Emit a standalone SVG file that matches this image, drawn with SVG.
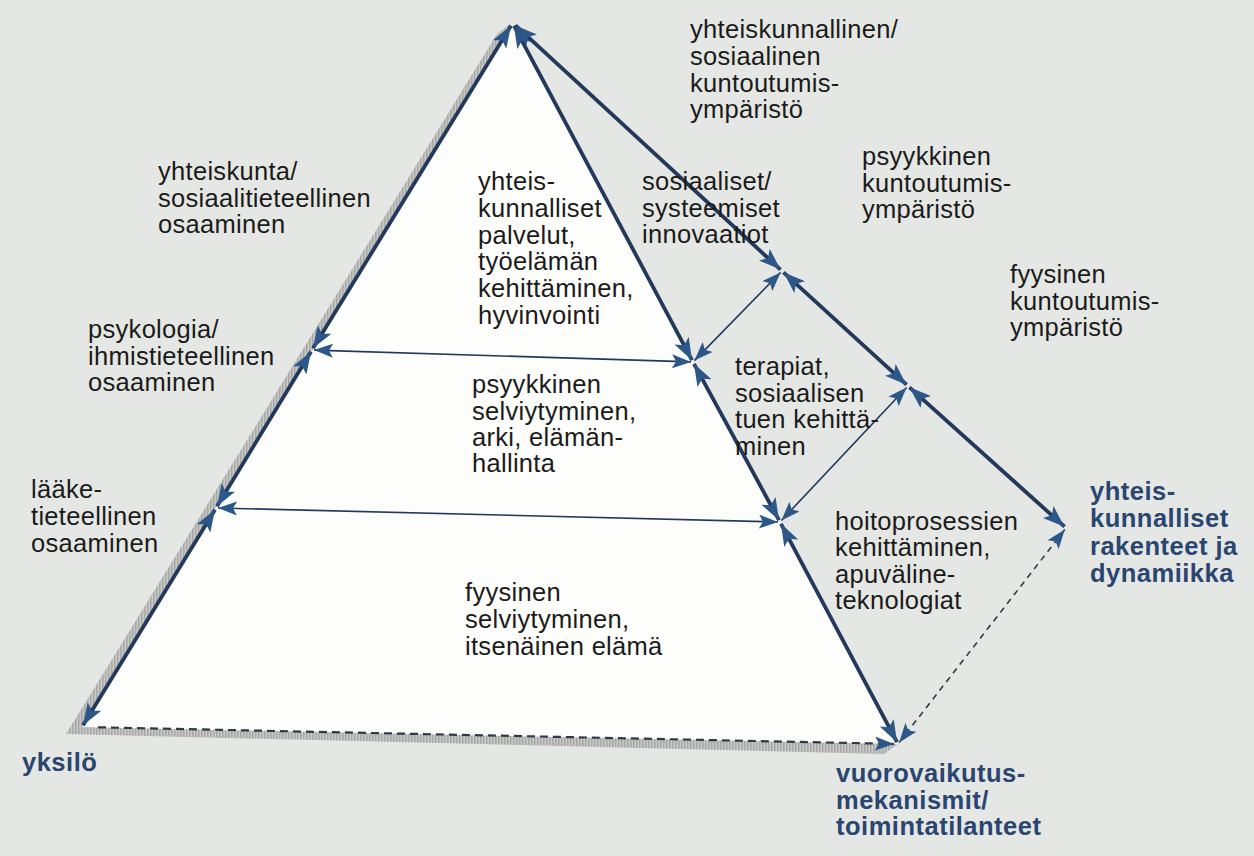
<svg xmlns="http://www.w3.org/2000/svg" width="1254" height="856" viewBox="0 0 1254 856">
<defs>
<style>
.t{font-family:"Liberation Sans",Arial,sans-serif;font-size:25.5px;fill:#1b1b1b;letter-spacing:0.3px}
.b{font-family:"Liberation Sans",Arial,sans-serif;font-size:25.5px;font-weight:bold;fill:#2a4670;letter-spacing:0.5px}
.thick{stroke:#22395c;stroke-width:3.8;fill:none;marker-start:url(#ah);marker-end:url(#ah)}
.thin{stroke:#22395c;stroke-width:1.6;fill:none;marker-start:url(#as);marker-end:url(#as)}
.dash{stroke:#2e3a48;stroke-width:1.6;fill:none;stroke-dasharray:6 5;marker-start:url(#as);marker-end:url(#as)}
</style>
<marker id="ah" viewBox="0 0 22 16" refX="22" refY="8" markerWidth="22" markerHeight="16" markerUnits="userSpaceOnUse" orient="auto-start-reverse"><path d="M0,0 L22,8 L0,16 L5,8 Z" fill="#2d5788"/></marker>
<marker id="as" viewBox="0 0 19 14" refX="19" refY="7" markerWidth="19" markerHeight="14" markerUnits="userSpaceOnUse" orient="auto-start-reverse"><path d="M0,0 L19,7 L0,14 L4,7 Z" fill="#2d5788"/></marker>
<pattern id="hatch" width="3" height="3" patternUnits="userSpaceOnUse"><rect width="3" height="3" fill="#c9cac8"/><rect width="1.5" height="3" fill="#a7a9a7"/></pattern>
</defs>
<rect width="1254" height="856" fill="#e5e7e4"/>
<g id="pyramid">
<path d="M510,24 L497,34 L66,734 L884,754 L898,744 Z" fill="url(#hatch)"/>
<path d="M512,24 L82,727 L898,744 Z" fill="#fdfdfb"/>
</g>
<g id="connectors">
<line class="thick" x1="511" y1="25.7" x2="313" y2="348.3"/>
<line class="thick" x1="311" y1="351.7" x2="217" y2="506.3"/>
<line class="thick" x1="215" y1="509.7" x2="83" y2="725.3"/>
<line class="thick" x1="514" y1="25.8" x2="692" y2="360.2"/>
<line class="thick" x1="694" y1="363.8" x2="779" y2="520.2"/>
<line class="thick" x1="781" y1="523.8" x2="897" y2="742.2"/>
<line class="thick" x1="515.5" y1="25.4" x2="780.5" y2="269.6"/>
<line class="thick" x1="783.5" y1="272.3" x2="906.5" y2="384.7"/>
<line class="thick" x1="909.5" y1="387.3" x2="1064.5" y2="526.7"/>
<line class="thin" x1="780.6" y1="272.4" x2="694.4" y2="360.6"/>
<line class="thin" x1="906.6" y1="387.5" x2="781.4" y2="520.5"/>
<line class="dash" x1="1064.8" y1="529.6" x2="899.2" y2="742.4"/>
<line class="thin" x1="314" y1="350.1" x2="691" y2="361.9"/>
<line class="thin" x1="218" y1="508" x2="778" y2="522"/>
<line x1="98" y1="727.3" x2="894" y2="743.9" stroke="#2e3a48" stroke-width="2.2" stroke-dasharray="8 5" marker-end="url(#as)"/>
</g>
<g id="n-yhteiskunta">
<text class="t" x="158" y="180">yhteiskunta/</text>
<text class="t" x="158" y="207">sosiaalitieteellinen</text>
<text class="t" x="158" y="233">osaaminen</text>
</g>
<g id="n-psykologia">
<text class="t" x="88" y="338">psykologia/</text>
<text class="t" x="88" y="365">ihmistieteellinen</text>
<text class="t" x="88" y="391">osaaminen</text>
</g>
<g id="n-laake">
<text class="t" x="31" y="498">lääke-</text>
<text class="t" x="31" y="525">tieteellinen</text>
<text class="t" x="31" y="552">osaaminen</text>
</g>
<g id="n-yksilo">
<text class="b" x="22" y="771">yksilö</text>
</g>
<g id="n-palvelut">
<text class="t" x="478" y="190">yhteis-</text>
<text class="t" x="478" y="217">kunnalliset</text>
<text class="t" x="478" y="244">palvelut,</text>
<text class="t" x="478" y="270">työelämän</text>
<text class="t" x="478" y="297">kehittäminen,</text>
<text class="t" x="478" y="324">hyvinvointi</text>
</g>
<g id="n-psyykkinen-selv">
<text class="t" x="472" y="393">psyykkinen</text>
<text class="t" x="472" y="420">selviytyminen,</text>
<text class="t" x="472" y="446">arki, elämän-</text>
<text class="t" x="472" y="472">hallinta</text>
</g>
<g id="n-fyysinen-selv">
<text class="t" x="465" y="601">fyysinen</text>
<text class="t" x="465" y="628">selviytyminen,</text>
<text class="t" x="465" y="655">itsenäinen elämä</text>
</g>
<g id="n-innovaatiot">
<text class="t" x="642" y="190">sosiaaliset/</text>
<text class="t" x="642" y="217">systeemiset</text>
<text class="t" x="642" y="243">innovaatiot</text>
</g>
<g id="n-terapiat">
<text class="t" x="735" y="375">terapiat,</text>
<text class="t" x="735" y="402">sosiaalisen</text>
<text class="t" x="735" y="428">tuen kehittä-</text>
<text class="t" x="735" y="455">minen</text>
</g>
<g id="n-hoito">
<text class="t" x="835" y="530">hoitoprosessien</text>
<text class="t" x="835" y="556">kehittäminen,</text>
<text class="t" x="835" y="583">apuväline-</text>
<text class="t" x="835" y="609">teknologiat</text>
</g>
<g id="n-sosiaalinen-ymp">
<text class="t" x="690" y="38">yhteiskunnallinen/</text>
<text class="t" x="690" y="65">sosiaalinen</text>
<text class="t" x="690" y="92">kuntoutumis-</text>
<text class="t" x="690" y="118">ympäristö</text>
</g>
<g id="n-psyykkinen-ymp">
<text class="t" x="862" y="165">psyykkinen</text>
<text class="t" x="862" y="192">kuntoutumis-</text>
<text class="t" x="862" y="218">ympäristö</text>
</g>
<g id="n-fyysinen-ymp">
<text class="t" x="1010" y="283">fyysinen</text>
<text class="t" x="1010" y="310">kuntoutumis-</text>
<text class="t" x="1010" y="336">ympäristö</text>
</g>
<g id="n-rakenteet">
<text class="b" x="1090" y="500">yhteis-</text>
<text class="b" x="1090" y="527">kunnalliset</text>
<text class="b" x="1090" y="555">rakenteet ja</text>
<text class="b" x="1090" y="582">dynamiikka</text>
</g>
<g id="n-vuorovaikutus">
<text class="b" x="836" y="782">vuorovaikutus-</text>
<text class="b" x="836" y="809">mekanismit/</text>
<text class="b" x="836" y="835">toimintatilanteet</text>
</g>
</svg>
